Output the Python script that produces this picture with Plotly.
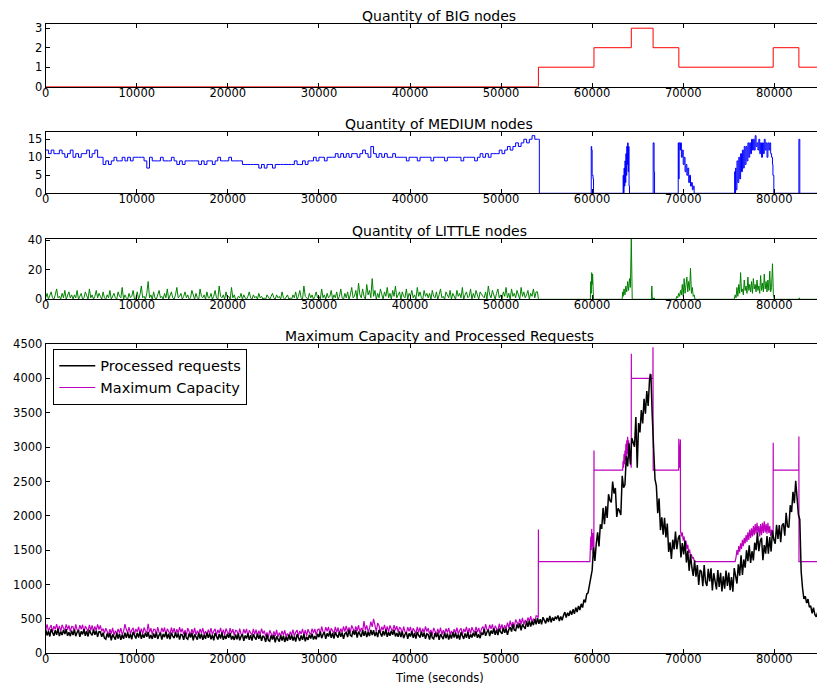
import plotly.graph_objects as go

# ---------------- data ----------------
STEP = 150       # sampling step (s) of requests / capacity / LITTLE series
STEP_MED = 300   # sampling step (s) of MEDIUM series
X_MAX = 86400

big_t = [0, 54100, 60200, 64300, 66690, 69520, 79880, 82700, 86400]
big_v = [0, 1, 2, 3, 2, 1, 2, 1, 1]

# Processed requests, one row per 3000 s (20 samples of 150 s)
processed_rows = [
    [345, 260, 320, 245, 350, 290, 255, 335, 270, 355, 250, 315, 265, 340, 280, 350, 255, 305, 250, 330],
    [265, 345, 250, 305, 335, 240, 320, 275, 350, 255, 325, 245, 340, 290, 260, 345, 270, 330, 240, 315],
    [310, 240, 300, 220, 205, 290, 230, 295, 190, 275, 235, 200, 295, 215, 285, 195, 270, 210, 300, 225],
    [305, 220, 280, 205, 310, 250, 215, 295, 230, 315, 210, 275, 225, 300, 240, 310, 215, 265, 210, 290],
    [225, 305, 210, 265, 295, 200, 280, 235, 310, 215, 285, 205, 300, 250, 220, 305, 230, 290, 200, 275],
    [265, 195, 300, 220, 205, 290, 230, 295, 190, 275, 235, 200, 295, 215, 285, 195, 270, 210, 300, 225],
    [290, 205, 265, 190, 295, 235, 200, 280, 215, 300, 195, 260, 210, 285, 225, 295, 200, 250, 195, 275],
    [205, 285, 190, 245, 275, 180, 260, 215, 290, 195, 265, 185, 280, 230, 200, 285, 210, 270, 180, 255],
    [235, 165, 270, 190, 175, 260, 200, 265, 160, 245, 205, 170, 265, 185, 255, 165, 240, 180, 270, 195],
    [270, 185, 245, 170, 275, 215, 180, 260, 195, 280, 175, 240, 195, 270, 215, 285, 200, 250, 205, 285],
    [235, 315, 220, 275, 305, 210, 290, 245, 320, 225, 295, 215, 310, 260, 230, 315, 240, 300, 210, 285],
    [305, 235, 340, 260, 245, 330, 270, 335, 230, 315, 275, 240, 335, 255, 325, 235, 310, 250, 340, 265],
    [335, 250, 310, 235, 340, 280, 245, 325, 260, 345, 240, 305, 255, 330, 270, 340, 245, 295, 240, 320],
    [235, 315, 220, 275, 305, 210, 290, 245, 320, 225, 295, 215, 310, 260, 230, 315, 240, 300, 210, 285],
    [270, 200, 305, 225, 210, 295, 235, 300, 195, 280, 240, 205, 300, 220, 290, 200, 275, 215, 305, 230],
    [300, 215, 275, 200, 305, 245, 210, 290, 225, 310, 210, 275, 230, 300, 245, 320, 225, 275, 220, 300],
    [270, 350, 255, 310, 340, 250, 330, 285, 360, 270, 345, 265, 360, 310, 285, 370, 300, 360, 270, 345],
    [380, 315, 420, 340, 330, 420, 365, 435, 335, 420, 385, 355, 465, 385, 475, 390, 465, 410, 495, 420],
    [515, 430, 495, 420, 525, 470, 435, 515, 455, 545, 450, 520, 475, 525, 505, 550, 470, 535, 480, 550],
    [600, 520, 590, 545, 620, 560, 640, 575, 665, 600, 690, 630, 720, 665, 780, 740, 860, 880, 1000, 1120],
    [1210, 1540, 1345, 1590, 1760, 1555, 1875, 1810, 2115, 1880, 2140, 1970, 2315, 2225, 2195, 2500, 2325, 2405, 1985, 2110],
    [2075, 2013, 2583, 2410, 2450, 2865, 2720, 3057, 2747, 3133, 3063, 3005, 3437, 2700, 3350, 3213, 3540, 3345, 3703, 3485],
    [3815, 3600, 3980, 4060, 3450, 3063, 2535, 2435, 2037, 2253, 1793, 1980, 1725, 1970, 1685, 1887, 1475, 1615, 1373, 1653],
    [1510, 1770, 1515, 1670, 1720, 1395, 1605, 1440, 1635, 1320, 1490, 1200, 1435, 1245, 1125, 1350, 1115, 1285, 995, 1210],
    [1190, 975, 1285, 1035, 980, 1230, 1045, 1235, 915, 1165, 1040, 930, 1210, 965, 1170, 900, 1120, 940, 1205, 980],
    [1175, 920, 1110, 895, 1240, 1090, 1015, 1295, 1130, 1425, 1140, 1365, 1245, 1500, 1340, 1570, 1315, 1485, 1350, 1610],
    [1500, 1760, 1485, 1630, 1680, 1355, 1575, 1450, 1705, 1450, 1690, 1480, 1785, 1655, 1595, 1870, 1665, 1865, 1615, 1860],
    [1890, 1710, 2045, 1845, 1830, 2155, 2055, 2350, 2185, 2510, 2270, 2015, 1950, 1190, 950, 790, 830, 730, 790, 670],
    [690, 580, 665, 565, 530, 595, 515, 560, 435, 500, 445],
]

# Maximum capacity, regular part 0..54000 s
capacity_rows = [
    [340, 420, 325, 380, 410, 315, 395, 350, 425, 330, 400, 320, 415, 365, 335, 420, 345, 405, 315, 390],
    [385, 315, 420, 340, 325, 410, 350, 415, 310, 395, 355, 320, 415, 335, 405, 315, 390, 330, 420, 345],
    [405, 320, 360, 290, 365, 305, 270, 350, 285, 370, 265, 330, 280, 355, 295, 365, 270, 320, 425, 345],
    [300, 380, 285, 340, 370, 275, 355, 310, 385, 290, 360, 280, 375, 325, 295, 430, 305, 365, 275, 350],
    [345, 275, 380, 300, 285, 370, 310, 375, 270, 355, 315, 280, 375, 295, 365, 275, 350, 290, 380, 305],
    [360, 275, 335, 260, 365, 305, 270, 350, 285, 370, 265, 330, 280, 355, 295, 365, 270, 320, 265, 345],
    [285, 365, 270, 325, 355, 260, 340, 295, 370, 275, 345, 265, 360, 310, 280, 365, 290, 350, 260, 335],
    [325, 255, 360, 280, 265, 350, 290, 355, 250, 335, 295, 260, 355, 275, 345, 255, 330, 270, 360, 285],
    [330, 245, 305, 230, 335, 275, 240, 320, 255, 340, 235, 300, 250, 325, 265, 335, 240, 290, 235, 315],
    [265, 345, 250, 305, 340, 245, 325, 280, 355, 265, 335, 255, 350, 300, 275, 360, 295, 355, 265, 340],
    [355, 285, 390, 310, 295, 380, 320, 385, 280, 365, 325, 290, 385, 305, 375, 285, 360, 300, 390, 315],
    [400, 315, 375, 300, 405, 345, 310, 390, 325, 410, 305, 370, 320, 470, 335, 405, 310, 360, 460, 385],
    [500, 410, 315, 440, 400, 305, 385, 340, 415, 320, 390, 310, 405, 355, 325, 410, 335, 395, 305, 380],
    [355, 285, 390, 310, 295, 380, 320, 385, 280, 365, 325, 290, 385, 305, 375, 285, 360, 300, 390, 315],
    [365, 280, 340, 265, 370, 310, 275, 355, 290, 375, 270, 335, 285, 360, 300, 370, 275, 325, 270, 350],
    [295, 375, 280, 335, 365, 270, 355, 310, 385, 290, 365, 285, 380, 330, 300, 385, 310, 370, 280, 355],
    [390, 320, 425, 345, 330, 415, 355, 420, 315, 400, 360, 325, 430, 350, 420, 330, 410, 350, 445, 370],
    [475, 390, 455, 380, 490, 440, 410, 500, 425, 515, 415, 485, 440, 520, 465, 540, 450, 505, 460, 545],
    [540],
]
# Maximum capacity after 54000 s (time, value)
capacity_t_post = [
    54090, 54100, 54110, 59750, 59800, 59850, 59900, 59950, 60000, 60050,
    60100, 60150, 60190, 60200, 60210, 63350, 63400, 63450, 63500, 63550,
    63600, 63650, 63700, 63750, 63800, 63850, 63900, 63950, 64000, 64100,
    64200, 64290, 64300, 64310, 66300, 66350, 66400, 66670, 66680, 66700,
    69500, 69510, 69600, 69690, 69700, 69800, 69900, 70000, 70100, 70200,
    70300, 70400, 70500, 70600, 70700, 70800, 70900, 71000, 71100, 71200,
    71400, 75700, 75800, 75900, 76000, 76100, 76200, 76300, 76400, 76500,
    76600, 76700, 76800, 76900, 77000, 77100, 77200, 77300, 77400, 77500,
    77600, 77700, 77800, 77900, 78000, 78100, 78200, 78300, 78400, 78500,
    78600, 78700, 78800, 78900, 79000, 79100, 79200, 79300, 79400, 79500,
    79600, 79700, 79800, 79870, 79880, 79890, 82690, 82700, 82710, 86400,
]
capacity_v_post = [
    520, 1800, 1333, 1333, 1450, 1700, 1500, 1810, 1550, 1750,
    1450, 1600, 1400, 2950, 2666, 2666, 2800, 2700, 2900, 2750,
    2950, 2800, 3050, 2850, 3100, 2900, 3150, 2950, 3100, 2900,
    2750, 2700, 4357, 4000, 4000, 4070, 4000, 4000, 4454, 2666,
    2666, 3121, 2700, 3110, 1780, 1700, 1760, 1640, 1700, 1580,
    1640, 1520, 1580, 1460, 1510, 1410, 1440, 1380, 1400, 1350,
    1333, 1333, 1400, 1500, 1430, 1560, 1480, 1600, 1520, 1650,
    1560, 1680, 1600, 1720, 1620, 1760, 1650, 1800, 1680, 1820,
    1700, 1850, 1720, 1880, 1740, 1900, 1760, 1850, 1700, 1880,
    1720, 1900, 1750, 1920, 1760, 1880, 1740, 1900, 1750, 1850,
    1700, 1800, 1720, 1750, 3063, 2666, 2666, 3155, 1333, 1333,
]

# MEDIUM nodes, regular part 0..53700 s (10 samples of 300 s per row)
medium_rows = [
    [12, 11, 12, 11, 11, 12, 11, 10, 11, 12],
    [10, 11, 10, 11, 11, 12, 10, 11, 12, 10],
    [10, 8, 9, 8, 9, 10, 9, 9, 10, 9],
    [10, 9, 10, 10, 10, 10, 9, 7, 10, 9],
    [9, 9, 10, 9, 9, 9, 10, 9, 8, 9],
    [8, 9, 9, 9, 9, 9, 8, 9, 8, 9],
    [9, 8, 9, 10, 9, 9, 9, 10, 9, 9],
    [9, 9, 8, 8, 8, 8, 8, 8, 7, 8],
    [7, 8, 8, 7, 8, 8, 8, 8, 8, 8],
    [8, 9, 8, 8, 9, 8, 9, 9, 10, 9],
    [10, 10, 9, 10, 10, 10, 11, 10, 11, 10],
    [11, 10, 11, 11, 10, 11, 12, 11, 10, 13],
    [11, 10, 11, 10, 11, 10, 10, 11, 10, 10],
    [10, 10, 9, 10, 10, 10, 9, 10, 10, 10],
    [10, 9, 10, 10, 10, 10, 9, 10, 10, 10],
    [10, 10, 9, 10, 10, 10, 10, 9, 10, 11],
    [10, 11, 10, 11, 11, 11, 12, 11, 12, 13],
    [12, 13, 14, 13, 14, 15, 14, 15, 16, 15],
]
medium_t_post = [
    54000, 54150, 54200, 59850, 59900, 59950, 60000, 60100, 60150, 63350,
    63400, 63450, 63500, 63550, 63600, 63650, 63700, 63750, 63800, 63850,
    63900, 63950, 64000, 64050, 64100, 66650, 66700, 66800, 66850, 69400,
    69450, 69500, 69550, 69650, 69700, 69800, 69900, 70000, 70100, 70200,
    70300, 70400, 70500, 70600, 70700, 70800, 70900, 71000, 71100, 71200,
    75600, 75650, 75700, 75750, 75800, 75900, 76000, 76100, 76200, 76300,
    76400, 76500, 76600, 76700, 76800, 76900, 77000, 77100, 77200, 77300,
    77400, 77500, 77600, 77700, 77800, 77900, 78000, 78100, 78200, 78300,
    78400, 78500, 78600, 78700, 78800, 78900, 79000, 79100, 79200, 79300,
    79400, 79500, 79600, 79700, 79800, 79850, 79950, 82650, 82700, 82800,
    86400,
]
medium_v_post = [
    15, 15, 0, 0, 13, 12, 5, 4, 0, 0,
    5, 0, 7, 2, 9, 3, 11, 5, 13, 8,
    14, 6, 13, 2, 0, 0, 14, 6, 0, 0,
    14, 4, 14, 12, 14, 10, 12, 8, 10, 6,
    8, 5, 7, 3, 5, 2, 3, 1, 2, 0,
    0, 6, 0, 7, 1, 9, 3, 10, 4, 11,
    6, 12, 7, 13, 8, 13, 9, 14, 10, 14,
    11, 15, 12, 15, 12, 16, 13, 14, 12, 15,
    11, 14, 10, 14, 11, 15, 12, 14, 10, 14,
    12, 14, 11, 10, 8, 5, 0, 0, 15, 0,
    0,
]

# LITTLE nodes, regular part 0..53850 s (20 samples of 150 s per row)
little_rows = [
    [1, 4, 0, 2, 5, 1, 0, 3, 7, 1, 2, 0, 4, 1, 6, 0, 2, 5, 1, 3],
    [0, 3, 1, 6, 0, 2, 4, 0, 1, 5, 2, 0, 7, 1, 3, 0, 2, 6, 1, 4],
    [2, 0, 5, 1, 0, 3, 1, 6, 0, 2, 4, 1, 0, 5, 2, 1, 8, 0, 3, 1],
    [0, 4, 1, 2, 6, 0, 1, 5, 0, 3, 9, 1, 2, 0, 4, 12, 1, 3, 0, 5],
    [1, 0, 3, 6, 1, 2, 0, 4, 1, 7, 0, 2, 5, 1, 0, 3, 8, 1, 2, 4],
    [0, 2, 5, 1, 3, 0, 1, 6, 2, 0, 4, 1, 0, 7, 2, 1, 3, 0, 5, 1],
    [1, 4, 0, 2, 6, 1, 0, 9, 2, 1, 3, 0, 5, 1, 2, 0, 8, 1, 3, 0],
    [0, 2, 1, 4, 0, 3, 1, 0, 2, 5, 1, 0, 3, 1, 2, 0, 4, 1, 2, 0],
    [1, 0, 3, 1, 0, 2, 4, 1, 0, 3, 1, 2, 0, 5, 1, 0, 2, 3, 0, 1],
    [0, 3, 1, 5, 0, 2, 6, 1, 0, 9, 2, 1, 0, 4, 1, 3, 0, 2, 5, 1],
    [2, 0, 7, 1, 3, 0, 4, 1, 2, 6, 0, 3, 1, 5, 0, 2, 7, 1, 0, 4],
    [1, 5, 0, 3, 8, 1, 2, 6, 0, 11, 3, 1, 7, 2, 0, 10, 3, 6, 1, 14],
    [2, 6, 0, 4, 1, 7, 3, 0, 5, 2, 8, 1, 4, 0, 6, 2, 9, 1, 3, 5],
    [0, 5, 2, 1, 7, 0, 4, 2, 6, 1, 3, 0, 8, 2, 5, 1, 0, 6, 2, 4],
    [1, 4, 0, 6, 2, 1, 5, 0, 3, 7, 1, 2, 0, 5, 3, 1, 6, 0, 4, 2],
    [0, 6, 2, 4, 1, 8, 0, 3, 5, 1, 2, 7, 0, 4, 1, 6, 2, 0, 5, 3],
    [2, 1, 5, 0, 9, 3, 1, 6, 2, 0, 4, 7, 1, 3, 0, 5, 2, 8, 1, 4],
    [0, 7, 2, 4, 1, 6, 3, 0, 8, 2, 5, 1, 3, 6, 0, 4, 2, 7, 1, 5],
]
little_t_post = [
    54000, 54100, 59800, 59850, 59900, 59950, 60000, 60050, 60100, 60150,
    63300, 63350, 63400, 63500, 63600, 63700, 63800, 63900, 64000, 64100,
    64200, 64300, 64350, 64400, 66500, 66550, 66600, 66650, 66800, 66900,
    69200, 69300, 69400, 69500, 69600, 69700, 69800, 69900, 70000, 70100,
    70200, 70300, 70400, 70500, 70600, 70700, 70800, 70900, 71000, 71100,
    71200, 71300, 75600, 75700, 75800, 75900, 76000, 76100, 76200, 76300,
    76400, 76500, 76600, 76700, 76800, 76900, 77000, 77100, 77200, 77300,
    77400, 77500, 77600, 77700, 77800, 77900, 78000, 78100, 78200, 78300,
    78400, 78500, 78600, 78700, 78800, 78900, 79000, 79100, 79200, 79300,
    79400, 79500, 79600, 79700, 79800, 79900, 80000, 82700, 82750, 82800,
    86400,
]
little_v_post = [
    5, 0, 0, 12, 4, 18, 10, 17, 2, 0,
    0, 5, 2, 7, 3, 9, 5, 12, 6, 14,
    8, 41, 5, 0, 0, 9, 2, 0, 1, 0,
    0, 2, 1, 4, 2, 6, 3, 10, 2, 14,
    4, 8, 15, 5, 12, 6, 21, 4, 8, 2,
    3, 0, 0, 3, 1, 8, 2, 10, 4, 18,
    5, 7, 3, 13, 6, 9, 4, 15, 6, 10,
    5, 12, 4, 14, 7, 10, 5, 13, 6, 9,
    4, 16, 6, 11, 5, 17, 7, 12, 5, 13,
    6, 19, 5, 8, 24, 3, 0, 0, 1, 0,
    0,
]

# ---------------- assemble series ----------------
def flat(rows):
    return [v for r in rows for v in r]

processed_v = flat(processed_rows)
processed_t = [i * STEP for i in range(len(processed_v))]

cap_pre = flat(capacity_rows)
capacity_t = [i * STEP for i in range(len(cap_pre))] + capacity_t_post
capacity_v = cap_pre + capacity_v_post

med_pre = flat(medium_rows)
medium_t = [i * STEP_MED for i in range(len(med_pre))] + medium_t_post
medium_v = med_pre + medium_v_post

lit_pre = flat(little_rows)
little_t = [i * STEP for i in range(len(lit_pre))] + little_t_post
little_v = lit_pre + little_v_post

assert len(capacity_t) == len(capacity_v)
assert len(medium_t) == len(medium_v)
assert len(little_t) == len(little_v)

# ---------------- figure ----------------
W, H = 825, 689
OFF = 8.0   # page offset of the plot in the photographed window
FONT = "DejaVu Sans"

fig = go.Figure()
fig.add_trace(go.Scatter(x=big_t, y=big_v, mode="lines", line=dict(color="#ff0000", width=1, shape="hv"),
                         showlegend=False, xaxis="x", yaxis="y", hoverinfo="skip"))
fig.add_trace(go.Scatter(x=medium_t, y=medium_v, mode="lines", line=dict(color="#0000ff", width=1, shape="hv"),
                         showlegend=False, xaxis="x2", yaxis="y2", hoverinfo="skip"))
fig.add_trace(go.Scatter(x=little_t, y=little_v, mode="lines", line=dict(color="#008000", width=1),
                         showlegend=False, xaxis="x3", yaxis="y3", hoverinfo="skip"))
fig.add_trace(go.Scatter(x=capacity_t, y=capacity_v, mode="lines", name="Maximum Capacity",
                         line=dict(color="#bf00bf", width=1.2), legendrank=2,
                         xaxis="x4", yaxis="y4", hoverinfo="skip"))
fig.add_trace(go.Scatter(x=processed_t, y=processed_v, mode="lines", name="Processed requests",
                         line=dict(color="#000000", width=1.5), legendrank=1,
                         xaxis="x4", yaxis="y4", hoverinfo="skip"))

xl = (45.7 - OFF) / W
xr = min(1.0, (45.7 + 86400 * 728.6 / 80000 - OFF) / W)

def ydom(top_px, bot_px):
    return [1 - (bot_px - OFF) / H, 1 - (top_px - OFF) / H]

doms = [ydom(24.3, 86.7), ydom(131.7, 193.3), ydom(239.0, 299.3), ydom(344.0, 653.3)]
yranges = [[0, 3.2], [0, 17.1], [0, 40.7], [0, 4500]]
ytickvals = [[0, 1, 2, 3], [0, 5, 10, 15], [0, 20, 40], list(range(0, 4501, 500))]
titles = ["Quantity of BIG nodes", "Quantity of MEDIUM nodes", "Quantity of LITTLE nodes",
          "Maximum Capacity and Processed Requests"]

tickfont = dict(family=FONT, size=11.5, color="#000000")
axis_common = dict(showgrid=False, zeroline=False, showline=True, linecolor="#000000", linewidth=1,
                   ticks="inside", ticklen=4, tickwidth=1, tickcolor="#000000", tickfont=tickfont,
                   automargin=False, tickformat="d")

layout = dict(
    width=W, height=H, autosize=False,
    margin=dict(l=0, r=0, t=0, b=0, pad=0, autoexpand=False),
    paper_bgcolor="white", plot_bgcolor="white",
    font=dict(family=FONT, size=12, color="#000000"),
    showlegend=True,
    legend=dict(x=(53.3 - OFF) / W, y=1 - (348.7 - OFF) / H, xanchor="left", yanchor="top",
                bgcolor="white", bordercolor="#000000", borderwidth=1, itemwidth=36,
                font=dict(family=FONT, size=14.5, color="#000000")),
    annotations=[],
)
title_x = (439.2 - OFF) / W
for k in range(4):
    sx = "" if k == 0 else str(k + 1)
    layout["xaxis" + sx] = dict(axis_common, domain=[xl, xr], range=[0, X_MAX],
                                tickvals=list(range(0, 80001, 10000)), mirror="ticks",
                                ticklabelstandoff=-5, anchor="y" + sx)
    layout["yaxis" + sx] = dict(axis_common, domain=doms[k], range=yranges[k],
                                tickvals=ytickvals[k], mirror="ticks", anchor="x" + sx)
    layout["annotations"].append(dict(text=titles[k], xref="paper", yref="paper",
                                      x=title_x, y=doms[k][1], xanchor="center", yanchor="bottom",
                                      yshift=-1, borderpad=0,
                                      showarrow=False, font=dict(family=FONT, size=14, color="#000000")))
layout["annotations"].append(dict(text="Time (seconds)", xref="paper", yref="paper",
                                  x=title_x, y=1 - (678.0 - OFF) / H, xanchor="center", yanchor="middle",
                                  showarrow=False, font=dict(family=FONT, size=11.5, color="#000000")))

fig.update_layout(**layout)
fig.write_html("out.html")
